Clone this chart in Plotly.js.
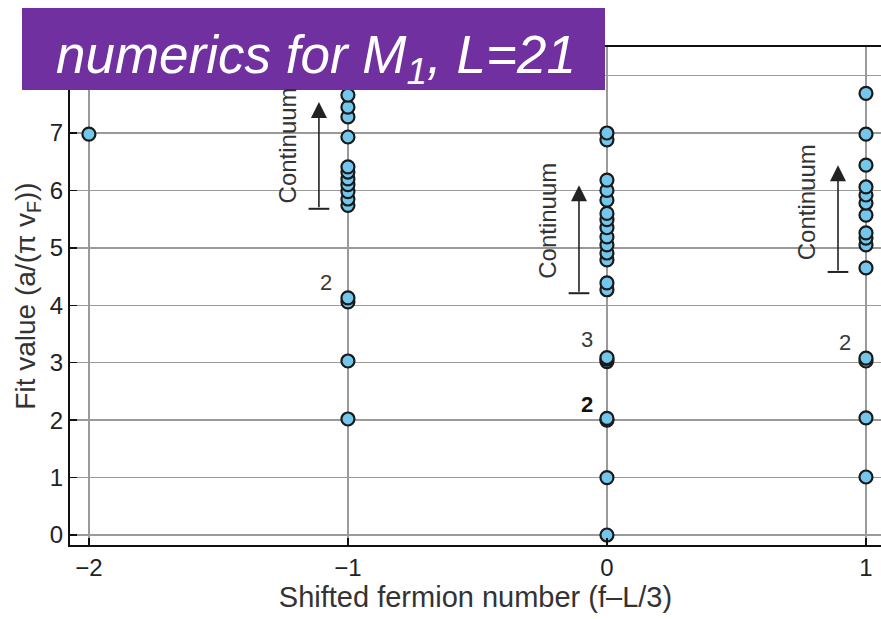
<!DOCTYPE html>
<html>
<head>
<meta charset="utf-8">
<script src="https://cdn.plot.ly/plotly-3.0.1.min.js"></script>
<style>html,body{margin:0;padding:0;background:#fff;overflow:hidden}</style>
</head>
<body>
<div id="chart" style="width:881px;height:619px"></div>
<script>
// Fit values per shifted fermion number
const fitAtMinus2 = [6.98];
const fitAtMinus1 = [2.02, 3.03, 4.06, 4.13, 5.74, 5.85, 5.98, 6.1, 6.2, 6.32, 6.41, 6.93, 7.28, 7.45, 7.66];
const fitAtZero = [0.0, 1.0, 2.0, 2.03, 3.02, 3.06, 3.09, 4.27, 4.39, 4.79, 4.91, 5.05, 5.19, 5.35, 5.49, 5.6, 5.83, 6.0, 6.18, 6.88, 7.0];
const fitAtPlus1 = [1.01, 2.04, 3.03, 3.08, 4.65, 5.05, 5.17, 5.26, 5.57, 5.78, 5.92, 6.06, 6.44, 6.98, 7.69];
const fermionNumbers = [-2, -1, 0, 1];
const xTickLabels = ['\u22122', '\u22121', '0', '1'];
const yTickValues = [0, 1, 2, 3, 4, 5, 6, 7, 8];
const yTickLabels = ['0', '1', '2', '3', '4', '5', '6', '7', ''];

// Degeneracy labels
const degLabelText = ['2', '3', '2', '2'];
const degLabelX = [-1.085, -0.077, -0.077, 0.919];
const degLabelY = [4.39, 3.40, 2.28, 3.36];

// Continuum arrows
const contX = [-1.112, -0.108, 0.892];
const contTop = [7.54, 6.09, 6.44];
const contBottom = [5.68, 4.21, 4.58];
const contTextX = [-1.232, -0.228, 0.770];
const contTextY = [6.78, 5.47, 5.80];

const groups = [fitAtMinus2, fitAtMinus1, fitAtZero, fitAtPlus1];
const xs = [], ys = [];
groups.forEach((g, i) => g.forEach(v => { xs.push(fermionNumbers[i]); ys.push(v); }));

const FONT = 'Liberation Sans, Arial, Helvetica, sans-serif';

const trace = {
  x: xs, y: ys, type: 'scatter', mode: 'markers',
  marker: {size: 13, color: '#74C7EC', line: {color: '#1a1a1a', width: 2.2}},
  hoverinfo: 'x+y', showlegend: false
};

const annotations = [];
degLabelText.forEach((t, i) => {
  annotations.push({
    x: degLabelX[i], y: degLabelY[i], xref: 'x', yref: 'y', showarrow: false,
    text: (i === 2 ? '<b>' + t + '</b>' : t),
    font: {family: FONT, size: 22, color: i === 2 ? '#111' : '#3a3a3a'}
  });
});
contX.forEach((x, i) => {
  annotations.push({
    x: x, y: contTop[i], ax: x, ay: contBottom[i], xref: 'x', yref: 'y', axref: 'x', ayref: 'y',
    showarrow: true, arrowhead: 2, arrowsize: 2, arrowwidth: 1.6, arrowcolor: '#222', standoff: 0, text: ''
  });
  annotations.push({
    x: contTextX[i], y: contTextY[i], xref: 'x', yref: 'y', showarrow: false,
    text: 'Continuum', textangle: -90,
    font: {family: FONT, size: 24, color: '#333'}
  });
});
// Title text (box drawn as a shape above the plot)
annotations.push({
  xref: 'paper', yref: 'paper', x: (316 - 70) / 811, y: (545 - 58) / 498,
  xanchor: 'center', yanchor: 'middle', showarrow: false,
  text: '<i>numerics for M<sub>1</sub>, L=21</i>',
  font: {family: FONT, size: 53, color: '#ffffff'}
});

const shapes = contX.map((x, i) => ({
  type: 'line', xref: 'x', yref: 'y', x0: x - 0.04, x1: x + 0.04, y0: contBottom[i], y1: contBottom[i],
  line: {color: '#222', width: 2}
}));
shapes.push({
  type: 'rect', xref: 'paper', yref: 'paper', layer: 'above',
  x0: (22 - 70) / 811, x1: (605 - 70) / 811, y0: (545 - 90) / 498, y1: (545 - 8) / 498,
  fillcolor: '#7030A0', line: {width: 0}
});

const layout = {
  width: 881, height: 619,
  margin: {l: 70, r: 0, t: 47, b: 74},
  paper_bgcolor: '#ffffff', plot_bgcolor: '#ffffff',
  font: {family: FONT, color: '#222'},
  xaxis: {
    range: [-2.073, 1.058], tickvals: fermionNumbers, ticktext: xTickLabels,
    showgrid: true, gridcolor: '#9a9a9a', gridwidth: 1.5, zeroline: false,
    showline: true, linecolor: '#111', linewidth: 2, mirror: true,
    ticks: 'inside', ticklen: 7, tickwidth: 1.5, tickcolor: '#111',
    tickfont: {family: FONT, size: 24, color: '#222'},
    title: {text: 'Shifted fermion number (f\u2013L/3)', font: {family: FONT, size: 29, color: '#333'}, standoff: 4},
    fixedrange: true
  },
  yaxis: {
    range: [-0.174, 8.497], tickvals: yTickValues, ticktext: yTickLabels,
    showgrid: true, gridcolor: '#9a9a9a', gridwidth: 1.5, zeroline: false,
    showline: true, linecolor: '#111', linewidth: 2,
    ticks: 'inside', ticklen: 7, tickwidth: 1.5, tickcolor: '#111',
    tickfont: {family: FONT, size: 24, color: '#222'},
    title: {text: 'Fit value (a/(\u03c0 v<sub>F</sub>))', font: {family: FONT, size: 28, color: '#333'}, standoff: 6},
    fixedrange: true
  },
  annotations: annotations,
  shapes: shapes
};

Plotly.newPlot('chart', [trace], layout, {displayModeBar: false, staticPlot: true});
</script>
</body>
</html>
